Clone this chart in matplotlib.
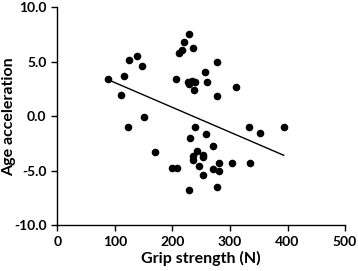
import matplotlib
matplotlib.use("Agg")
import matplotlib.pyplot as plt
import numpy as np

plt.rcParams["font.family"] = ["Lato", "DejaVu Sans"]
plt.rcParams["font.weight"] = "bold"

# grip strength (N) and age acceleration
grip = [87, 116, 125, 139, 147, 110, 150, 122.6, 170, 200, 208, 205.6,
        211.7, 216, 220.5, 228, 236, 277, 256, 260.5, 227, 233.4, 239,
        228.7, 237.4, 277, 310, 333, 352.7, 393.4, 240, 258, 230, 270,
        243, 253.6, 252.5, 235, 236, 281, 304, 335, 246.6, 271, 281,
        252.5, 278, 229]
age_acc = [3.39, 3.67, 5.17, 5.5, 4.6, 1.93, -0.06, -1.04, -3.33, -4.8,
           -4.8, 3.39, 5.75, 6.1, 6.8, 7.5, 6.24, 4.95, 4.0, 3.15, 3.09,
           3.24, 3.09, 2.9, 2.39, 1.83, 2.69, -1.04, -1.56, -1.04, -1.04,
           -1.68, -2.05, -2.78, -3.18, -3.55, -3.8, -3.67, -4.04, -4.28,
           -4.34, -4.34, -4.62, -4.9, -5.07, -5.45, -6.48, -6.8]

# trend line (slope, intercept)
slope = -0.0227
intercept = 5.33

x_ticks = [0, 100, 200, 300, 400, 500]
y_ticks = [-10.0, -5.0, 0.0, 5.0, 10.0]

fig = plt.figure(figsize=(3.58, 2.71), dpi=100)
ax = fig.add_axes([0.1606, 0.1697, 0.8031, 0.8043])

ax.scatter(grip, age_acc, s=30, color="black", zorder=3, linewidths=0)
xs = np.array([min(grip), max(grip)])
ax.plot(xs, slope * xs + intercept, color="black", linewidth=1.0)

ax.set_xlim(0, 500)
ax.set_ylim(-10, 10)
ax.set_xticks(x_ticks)
ax.set_yticks(y_ticks)
ax.set_yticklabels([f"{v:.1f}" for v in y_ticks])
ax.tick_params(labelsize=10, width=1.0, length=4, direction="out", pad=4)
for lab in ax.get_xticklabels() + ax.get_yticklabels():
    lab.set_fontweight("bold")

for s in ["top", "right"]:
    ax.spines[s].set_visible(False)
for s in ["left", "bottom"]:
    ax.spines[s].set_linewidth(1.0)

ax.set_xlabel("Grip strength (N)", fontsize=11.5, fontweight="bold", labelpad=2)
fig.text(0.025, 0.57, "Age acceleration", rotation=90, ha="center",
         va="center", fontsize=11.5, fontweight="bold")

fig.savefig("out.png", dpi=100)
